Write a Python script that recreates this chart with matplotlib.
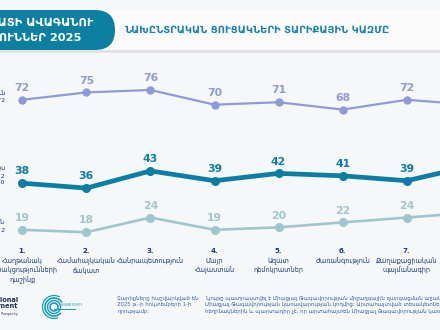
import matplotlib
matplotlib.use('Agg')
import matplotlib.pyplot as plt
from matplotlib.patches import FancyBboxPatch, Rectangle, Arc
from matplotlib.transforms import blended_transform_factory

# ---------------- data ----------------
cat_numbers = ['1.', '2.', '3.', '4.', '5.', '6.', '7.', '8.']
categories = ["Հաղթանակ\nկուսակցությունների\nդաշինք",
              "Համահայկական\nճակատ",
              "Հանրապետություն",
              "Մայր\nՀայաստան",
              "Ազատ\nդեմոկրատներ",
              "Ժառանգություն",
              "Քաղաքացիական\nպայմանագիր",
              ""]
oldest = [72, 75, 76, 70, 71, 68, 72, 70]
average = [38, 36, 43, 39, 42, 41, 39, 45]
youngest = [19, 18, 24, 19, 20, 22, 24, 26]
series_names = ["Ամենատարեց թեկնածուն\nմիջինը՝ 72",
                "Միջին տարիքս\nթեկնածուների 2\nտարիքը 40",
                "Ամենաերիտասարդն\nմիջինը՝ 2"]

pill_line1 = "ՎԱՂԱՐՇԱՊԱՏԻ ԱՎԱԳԱՆՈՒ"
pill_line2 = "ԸՆՏՐՈՒԹՅՈՒՆՆԵՐ 2025"
title = "ՆԱԽԸՆՏՐԱԿԱՆ ՑՈՒՑԱԿՆԵՐԻ ՏԱՐԻՔԱՅԻՆ ԿԱԶՄԸ"
note1 = "Տարիքները հաշվարկված են\n2025 թ.-ի հոկտեմբերի 1-ի\nդրությամբ:"
note2 = ("Նյութը պատրաստվել է Միացյալ Թագավորության միջազգային զարգացման աջակցության շնորհիվ\n"
         "Միացյալ Թագավորության կառավարության կողմից: Արտահայտված տեսակետները պատկանում են\n"
         "հեղինակներին և պարտադիր չէ, որ արտահայտեն Միացյալ Թագավորության կառավարության պաշտոնական դիրքորոշումը:")

# ---------------- style ----------------
BG = '#f6f7f9'
C_OLD = '#8f9bd6'
C_AVG = '#0b7fa3'
C_YNG = '#9fc6cc'
NAVY = '#1b3a78'
TEAL = '#0d7fa1'
FONT = ['DejaVu Sans Condensed', 'DejaVu Sans']

plt.rcParams['font.family'] = FONT

W, H = 440, 330
fig = plt.figure(figsize=(W / 100, H / 100), dpi=100, facecolor=BG)

# overlay in pixel coordinates for decoration
ov = fig.add_axes([0, 0, 1, 1], zorder=1)
ov.set_xlim(0, W)
ov.set_ylim(H, 0)
ov.axis('off')

# header banner with shadow
ov.add_patch(Rectangle((0, 11), W, 42, facecolor='#e2e3e6', edgecolor='none', zorder=1))
ov.add_patch(Rectangle((0, 10), W, 40, facecolor='#fbfbfb', edgecolor='none', zorder=2))
ov.add_patch(FancyBboxPatch((-60, 10), 175, 40, boxstyle="round,pad=0,rounding_size=20",
                            facecolor=TEAL, edgecolor='none', zorder=3))
ov.text(93, 23, pill_line1, color='white', fontsize=8.2, fontweight='bold',
        ha='right', va='center', zorder=4)
ov.text(81, 38, pill_line2, color='white', fontsize=8.2, fontweight='bold',
        ha='right', va='center', zorder=4)
t = ov.text(257, 30, title, color='#1b82b0', fontsize=10, fontweight='bold',
            ha='center', va='center', zorder=4)

# data axes
ax = fig.add_axes([0, 0, 1, 1], zorder=2)
ax.patch.set_alpha(0)
x = list(range(len(categories)))
ax.set_xlim(-0.348, 6.519)
ax.set_ylim(-21.85, 112.68)
ax.axis('off')

for vals, col, lw, ms in [(oldest, C_OLD, 1.6, 5.0),
                          (average, C_AVG, 3.4, 5.5),
                          (youngest, C_YNG, 1.9, 5.5)]:
    ax.plot(x, vals, color=col, lw=lw, marker='o', ms=ms, solid_capstyle='round')
    for xi, v in zip(x, vals):
        ax.annotate(str(v), (xi, v), xytext=(0, 8.5), textcoords='offset points',
                    ha='center', va='center', fontsize=7.8, fontweight='bold',
                    color=col, family='DejaVu Sans')

# category labels
tr = blended_transform_factory(ax.transData, ov.transData)
for xi, num, lab in zip(x, cat_numbers, categories):
    ax.text(xi, 251, num, transform=tr, ha='center', va='center', fontsize=5,
            fontweight='bold', color=NAVY)
    ax.text(xi, 257.5, lab, transform=tr, ha='center', va='top', fontsize=4.7,
            color=NAVY, linespacing=1.35)

# partially visible series names on the left edge
for name, yy in zip(series_names, [97, 176, 227]):
    ov.text(5, yy, name, ha='right', va='center', fontsize=4.6, color=NAVY,
            linespacing=1.2, zorder=4)

# footer: logos and notes
ov.text(18, 303, "UK International\nDevelopment", ha='right', va='center',
        fontsize=4.8, fontweight='bold', color='#26324a', linespacing=1.1)
ov.text(18, 314, "Partnership | Progress | Prosperity", ha='right', va='center',
        fontsize=2.4, color='#26324a')
cx, cy = 54, 307
for r, th1, th2, lw in [(4, 0, 360, 1.2), (6.5, 0, 360, 1.0), (9, 40, 330, 1.2),
                        (11.5, 70, 300, 0.9)]:
    ov.add_patch(Arc((cx, cy), 2 * r, 2 * r, theta1=th1, theta2=th2, color='#1a9bb5', lw=lw))
ov.add_patch(Rectangle((cx, cy + 1.5), 22, 1.4, facecolor='#1a9bb5', edgecolor='none'))
ov.text(cx + 7, cy - 2, "HUMAN RIGHTS", fontsize=2, color='#1a9bb5', va='center')

ov.text(117, 296, note1, ha='left', va='top', fontsize=3.9, color='#3a62a8', linespacing=1.3)
ov.text(205, 296, note2, ha='left', va='top', fontsize=3.9, color='#3a62a8', linespacing=1.3)

# fit title width
fig.canvas.draw()
r = fig.canvas.get_renderer()
bb = t.get_window_extent(r)
t.set_fontsize(10 * 264 / bb.width)

fig.savefig('out.png', dpi=100, facecolor=BG)
